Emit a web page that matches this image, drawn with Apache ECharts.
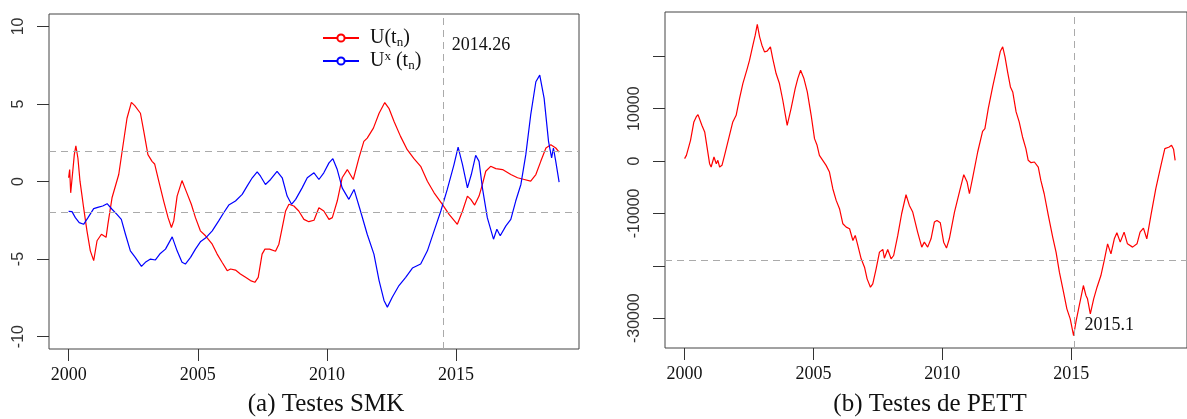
<!DOCTYPE html>
<html>
<head>
<meta charset="utf-8">
<title>Testes SMK / PETT</title>
<script src="https://cdn.jsdelivr.net/npm/echarts@6/dist/echarts.min.js"></script>
<style>
html,body{margin:0;padding:0;background:#fff;}
#main{width:1187px;height:419px;}
</style>
</head>
<body>
<div id="main"></div>
<script>
// (a) SMK: U(tn)
var uYears = [2000.00,2000.04,2000.08,2000.16,2000.22,2000.28,2000.36,2000.44,2000.52,2000.58,2000.71,2000.84,2000.97,2001.10,2001.27,2001.45,2001.52,2001.68,2001.94,2002.09,2002.26,2002.43,2002.56,2002.78,2002.91,2003.07,2003.23,2003.33,2003.49,2003.68,2003.85,2003.98,2004.07,2004.20,2004.39,2004.55,2004.75,2004.91,2005.10,2005.30,2005.56,2005.75,2005.94,2006.14,2006.27,2006.46,2006.65,2006.85,2007.04,2007.21,2007.34,2007.49,2007.60,2007.78,2008.01,2008.14,2008.27,2008.40,2008.53,2008.72,2008.91,2009.11,2009.30,2009.50,2009.69,2009.88,2010.08,2010.21,2010.40,2010.59,2010.79,2011.02,2011.24,2011.43,2011.56,2011.80,2012.02,2012.24,2012.40,2012.60,2012.85,2013.11,2013.37,2013.63,2013.89,2014.15,2014.47,2014.73,2015.05,2015.25,2015.44,2015.57,2015.72,2015.89,2016.02,2016.15,2016.34,2016.54,2016.80,2017.12,2017.38,2017.64,2017.89,2018.09,2018.28,2018.48,2018.67,2018.86,2018.99];
var uVals = [0.24,0.77,-0.73,0.66,1.73,2.30,1.50,0.02,-0.94,-1.69,-3.18,-4.47,-5.10,-3.82,-3.40,-3.60,-2.76,-1.05,0.45,2.16,4.08,5.10,4.89,4.40,3.23,1.73,1.30,1.13,0.02,-1.26,-2.33,-2.97,-2.54,-0.94,0.06,-0.62,-1.47,-2.33,-3.18,-3.50,-4.04,-4.68,-5.21,-5.75,-5.64,-5.71,-5.96,-6.18,-6.39,-6.50,-6.18,-4.68,-4.36,-4.36,-4.50,-4.04,-2.97,-1.90,-1.47,-1.58,-1.90,-2.44,-2.59,-2.50,-1.69,-1.90,-2.44,-2.33,-1.26,0.24,0.77,0.13,1.52,2.59,2.80,3.44,4.40,5.09,4.72,3.87,2.91,2.05,1.47,0.98,0.02,-0.73,-1.47,-2.12,-2.76,-1.90,-0.94,-1.15,-1.52,-0.94,-0.19,0.66,0.98,0.83,0.77,0.45,0.24,0.13,0.02,0.45,1.30,2.16,2.37,2.16,1.90];

// (a) SMK: U*(tn)
var usYears = [2000.00,2000.13,2000.26,2000.41,2000.58,2000.75,2000.97,2001.16,2001.32,2001.49,2001.68,2001.87,2002.04,2002.20,2002.39,2002.58,2002.82,2002.97,2003.17,2003.36,2003.55,2003.75,2004.01,2004.20,2004.39,2004.52,2004.72,2004.91,2005.10,2005.30,2005.56,2005.81,2006.01,2006.20,2006.46,2006.72,2006.91,2007.11,2007.30,2007.43,2007.62,2007.82,2008.07,2008.27,2008.46,2008.63,2008.79,2009.04,2009.24,2009.50,2009.69,2009.88,2010.08,2010.23,2010.40,2010.59,2010.85,2011.05,2011.30,2011.56,2011.82,2012.02,2012.21,2012.34,2012.53,2012.79,2013.05,2013.31,2013.63,2013.89,2014.15,2014.41,2014.66,2014.92,2015.08,2015.25,2015.44,2015.59,2015.76,2015.89,2016.02,2016.21,2016.45,2016.58,2016.71,2016.93,2017.12,2017.31,2017.51,2017.70,2017.89,2018.09,2018.24,2018.41,2018.58,2018.70,2018.77,2018.86,2018.99];
var usVals = [-1.92,-1.94,-2.33,-2.65,-2.76,-2.33,-1.75,-1.65,-1.58,-1.43,-1.79,-2.12,-2.44,-3.40,-4.47,-4.89,-5.47,-5.21,-5.00,-5.06,-4.64,-4.36,-3.57,-4.47,-5.21,-5.32,-4.89,-4.36,-3.89,-3.65,-3.18,-2.54,-2.00,-1.52,-1.26,-0.83,-0.30,0.24,0.62,0.34,-0.19,0.13,0.66,0.24,-0.94,-1.47,-1.15,-0.41,0.24,0.56,0.13,0.56,1.20,1.47,0.77,-0.41,-1.15,-0.51,-1.90,-3.40,-4.68,-6.39,-7.67,-8.10,-7.46,-6.71,-6.18,-5.58,-5.32,-4.47,-3.18,-1.90,-0.51,1.09,2.22,1.09,-0.41,0.45,1.69,1.30,-0.41,-2.33,-3.72,-3.08,-3.50,-2.86,-2.44,-1.26,-0.19,1.73,4.29,6.43,6.86,5.36,2.59,1.52,2.16,1.30,-0.04];

// (b) PETT
var pYears = [2000.00,2000.07,2000.13,2000.23,2000.36,2000.45,2000.52,2000.59,2000.67,2000.78,2000.88,2000.97,2001.03,2001.14,2001.23,2001.29,2001.36,2001.45,2001.55,2001.71,2001.87,2002.00,2002.13,2002.26,2002.43,2002.52,2002.65,2002.74,2002.82,2002.91,2003.00,2003.10,2003.20,2003.33,2003.42,2003.55,2003.68,2003.81,2003.98,2004.13,2004.29,2004.39,2004.50,2004.63,2004.76,2004.91,2005.04,2005.14,2005.23,2005.36,2005.49,2005.62,2005.75,2005.88,2006.01,2006.14,2006.27,2006.40,2006.53,2006.62,2006.72,2006.85,2006.98,2007.08,2007.21,2007.30,2007.43,2007.56,2007.69,2007.75,2007.88,2008.01,2008.11,2008.27,2008.42,2008.59,2008.72,2008.85,2009.04,2009.20,2009.30,2009.43,2009.56,2009.69,2009.79,2009.92,2010.05,2010.16,2010.27,2010.47,2010.66,2010.83,2010.96,2011.05,2011.18,2011.37,2011.56,2011.65,2011.78,2011.95,2012.12,2012.25,2012.34,2012.43,2012.53,2012.64,2012.73,2012.86,2012.98,2013.11,2013.24,2013.33,2013.44,2013.57,2013.72,2013.82,2013.95,2014.11,2014.28,2014.41,2014.54,2014.70,2014.83,2014.96,2015.09,2015.18,2015.31,2015.47,2015.57,2015.63,2015.74,2015.87,2016.00,2016.15,2016.28,2016.41,2016.54,2016.67,2016.77,2016.90,2017.05,2017.18,2017.38,2017.55,2017.67,2017.80,2017.93,2018.09,2018.28,2018.48,2018.63,2018.80,2018.89,2018.97,2019.03];
var pVals = [450,1080,1400,3950,7460,8410,8860,9050,6820,5550,2360,-510,-1150,770,-510,130,-1150,-830,1080,4270,7460,8730,11920,14790,17650,19250,22110,24030,26070,23710,22110,20840,20970,21800,19570,16700,14790,11600,6820,10010,13830,15740,17340,15740,13190,8730,4270,3000,1080,130,-830,-2100,-5290,-7520,-9110,-11980,-12620,-12940,-15170,-14210,-16120,-18670,-20270,-22500,-24090,-23450,-20590,-17400,-16890,-18550,-16890,-18670,-18040,-14210,-10070,-6440,-8480,-9750,-13570,-16440,-15490,-16440,-14850,-11660,-11340,-11790,-15490,-16630,-14850,-9750,-5930,-2610,-4020,-6250,-3060,1720,5670,6180,10010,14150,17970,20970,21800,19880,17020,14150,13190,9370,7460,4590,2360,130,-320,-190,-1150,-3700,-6250,-10390,-14530,-17400,-21220,-25050,-28230,-30140,-33330,-30780,-27590,-23770,-25680,-26320,-29190,-26320,-24090,-21860,-18990,-15810,-17720,-14850,-13700,-15490,-13580,-15810,-16440,-15810,-13580,-12810,-14850,-10390,-5290,-830,2360,2680,3000,2230,130];

var xTicks = [2000, 2005, 2010, 2015];
var smkTicks = [-10, -5, 0, 5, 10];
var pettTicks = [-30000, -20000, -10000, 0, 10000, 20000];
var pettLabels = [-30000, -10000, 0, 10000];

function pairs(xs, ys) {
	var out = [];
	for (var i = 0; i < xs.length; i++) out.push([xs[i], ys[i]]);
	return out;
}

var serif = 'Liberation Serif';
var sans = 'Liberation Sans';
var dash = {type: [7, 5], color: '#aaaaaa', width: 1};

function xAxisOf(idx, max) {
	return {
		type: 'value', gridIndex: idx, min: 1999.24, max: max,
		splitLine: {show: false},
		axisLine: {show: false, onZero: false},
		axisTick: {show: true, length: 12, customValues: xTicks, lineStyle: {color: '#333'}},
		axisLabel: {
			customValues: xTicks, margin: 17,
			fontFamily: serif, fontSize: 18, color: '#111',
			formatter: function (v) { return String(v); }
		}
	};
}

function yAxisOf(idx, min, max, ticks, labels) {
	return {
		type: 'value', gridIndex: idx, min: min, max: max,
		splitLine: {show: false},
		axisLine: {show: false, onZero: false},
		axisTick: {show: true, length: 12, customValues: ticks, lineStyle: {color: '#333'}},
		axisLabel: {
			customValues: labels, rotate: 90, margin: 22,
			fontFamily: sans, fontSize: 16, color: '#333',
			formatter: function (v) { return String(v); }
		}
	};
}

var chart = echarts.init(document.getElementById('main'));
chart.setOption({
	animation: false,
	grid: [
		{left: 49, top: 14, width: 530, height: 335, show: true, borderColor: '#444', borderWidth: 1},
		// panel (b) is cut by the right edge of the picture
		{left: 665, top: 12, width: 523, height: 336, show: true, borderColor: '#444', borderWidth: 1}
	],
	xAxis: [xAxisOf(0, 2019.76), xAxisOf(1, 2019.49)],
	yAxis: [
		yAxisOf(0, -10.8, 10.8, smkTicks, smkTicks),
		yAxisOf(1, -35700, 28450, pettTicks, pettLabels)
	],
	legend: {
		data: ['U(tn)', 'Ux(tn)'],
		orient: 'vertical',
		left: 317, top: 22,
		itemWidth: 36, itemHeight: 9, itemGap: 1,
		formatter: function (name) {
			return name === 'U(tn)' ? 'U(t{sub|n})' : 'U{sup|x} (t{sub|n})';
		},
		textStyle: {
			fontFamily: serif, fontSize: 20, color: '#111', lineHeight: 22,
			padding: [0, 0, 0, 6],
			rich: {
				sub: {fontFamily: serif, fontSize: 13, lineHeight: 13, verticalAlign: 'bottom', color: '#111'},
				sup: {fontFamily: serif, fontSize: 13, lineHeight: 13, verticalAlign: 'top', color: '#111'}
			}
		}
	},
	graphic: [
		{type: 'text', x: 326, y: 404, style: {text: '(a) Testes SMK', font: '25px "Liberation Serif"', fill: '#111', textAlign: 'center', textVerticalAlign: 'middle'}},
		{type: 'text', x: 930, y: 404, style: {text: '(b) Testes de PETT', font: '25px "Liberation Serif"', fill: '#111', textAlign: 'center', textVerticalAlign: 'middle'}}
	],
	series: [
		{
			name: 'U(tn)', type: 'line', xAxisIndex: 0, yAxisIndex: 0,
			data: pairs(uYears, uVals),
			symbol: 'emptyCircle', symbolSize: 8, showSymbol: false,
			lineStyle: {color: '#ff0000', width: 1.2},
			itemStyle: {color: '#ff0000'},
			markLine: {
				silent: true, symbol: ['none', 'none'],
				label: {show: false}, lineStyle: dash,
				data: [{yAxis: 1.96}, {yAxis: -1.96}, {xAxis: 2014.5}]
			},
			markPoint: {
				symbol: 'circle', symbolSize: 1, itemStyle: {color: 'rgba(0,0,0,0)'},
				label: {show: true, position: 'inside', formatter: '2014.26', fontFamily: serif, fontSize: 18, color: '#111'},
				data: [{coord: [2015.97, 8.78]}]
			}
		},
		{
			name: 'Ux(tn)', type: 'line', xAxisIndex: 0, yAxisIndex: 0,
			data: pairs(usYears, usVals),
			symbol: 'emptyCircle', symbolSize: 8, showSymbol: false,
			lineStyle: {color: '#0000ff', width: 1.2},
			itemStyle: {color: '#0000ff'}
		},
		{
			name: 'PETT', type: 'line', xAxisIndex: 1, yAxisIndex: 1,
			data: pairs(pYears, pVals),
			symbol: 'none',
			lineStyle: {color: '#ff0000', width: 1.2},
			markLine: {
				silent: true, symbol: ['none', 'none'],
				label: {show: false}, lineStyle: dash,
				data: [{yAxis: -19000}, {xAxis: 2015.1}]
			},
			markPoint: {
				symbol: 'circle', symbolSize: 1, itemStyle: {color: 'rgba(0,0,0,0)'},
				label: {show: true, position: 'inside', formatter: '2015.1', fontFamily: serif, fontSize: 18, color: '#111'},
				data: [{coord: [2016.47, -31360]}]
			}
		}
	]
});
</script>
</body>
</html>
